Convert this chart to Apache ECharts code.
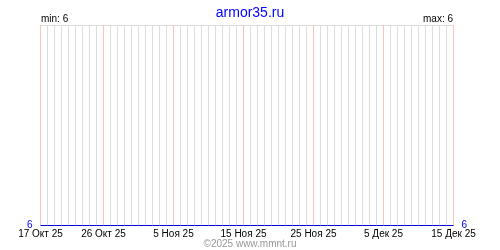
<!DOCTYPE html>
<html><head><meta charset="utf-8">
<script src="https://cdn.jsdelivr.net/npm/echarts@6/dist/echarts.min.js"></script>
<style>html,body{margin:0;padding:0;background:#fff}#c{width:500px;height:250px}</style>
</head><body><div id="c"></div>
<script>
// Data
const startDate = '2025-10-17';
const dayCount = 60; // 17 Oct 2025 .. 15 Dec 2025
const values = [6,6,6,6,6,6,6,6,6,6, 6,6,6,6,6,6,6,6,6,6, 6,6,6,6,6,6,6,6,6,6,
                6,6,6,6,6,6,6,6,6,6, 6,6,6,6,6,6,6,6,6,6, 6,6,6,6,6,6,6,6,6,6];
const tickIndex = [0, 9, 19, 29, 39, 49, 59];
const tickLabels = ['17 Окт 25', '26 Окт 25', '5 Ноя 25', '15 Ноя 25', '25 Ноя 25', '5 Дек 25', '15 Дек 25'];
const titleText = 'armor35.ru';
const footerText = '©2025 www.mmnt.ru';

const categories = [];
{
  const d0 = new Date(startDate + 'T00:00:00Z');
  for (let i = 0; i < dayCount; i++) {
    const d = new Date(d0.getTime() + i * 86400000);
    categories.push(d.toISOString().slice(0, 10));
  }
}
const vMin = Math.min(...values), vMax = Math.max(...values);
const FONT = 'Liberation Sans, Arial, sans-serif';

const chart = echarts.init(document.getElementById('c'));
chart.setOption({
  animation: false,
  title: {
    text: titleText, left: 'center', top: 1,
    textStyle: { color: '#0000ff', fontSize: 14, fontWeight: 'normal', fontFamily: FONT }
  },
  grid: { left: 40.5, right: 46.5, top: 25, bottom: 24.5, containLabel: false },
  xAxis: [{
    type: 'category', data: categories, boundaryGap: false,
    axisLine: { show: false }, axisTick: { show: false },
    axisLabel: {
      interval: (i) => tickIndex.includes(i),
      formatter: (v, i) => { const k = tickIndex.indexOf(i); return k >= 0 ? tickLabels[k] : ''; },
      color: '#000', fontSize: 10, fontFamily: FONT, margin: 4
    },
    splitLine: { show: true, interval: (i) => !tickIndex.includes(i), lineStyle: { color: '#dddddd', width: 1 } }
  }],
  yAxis: [{
    type: 'value', min: vMin, max: vMin + 1, interval: 1, position: 'left',
    axisLine: { show: false }, axisTick: { show: false },
    axisLabel: { formatter: (v) => v === vMin ? String(vMin) : '', color: '#0000ff', fontSize: 10, fontFamily: FONT, margin: 8 },
    splitLine: { show: true, lineStyle: { color: '#dddddd' } }
  }, {
    type: 'value', min: vMin, max: vMin + 1, interval: 1, position: 'right',
    axisLine: { show: false }, axisTick: { show: false },
    axisLabel: { formatter: (v) => v === vMax ? String(vMax) : '', color: '#0000ff', fontSize: 10, fontFamily: FONT, margin: 8 },
    splitLine: { show: false }
  }],
  graphic: [
    { type: 'text', left: 41, top: 14, style: { text: 'min: ' + vMin, fill: '#000', font: '10px ' + FONT } },
    { type: 'text', right: 47, top: 14, style: { text: 'max: ' + vMax, fill: '#000', font: '10px ' + FONT } },
    { type: 'text', left: 'center', top: 239, style: { text: footerText, fill: '#999999', font: '10px ' + FONT } }
  ],
  series: [{
    type: 'line', data: values, xAxisIndex: 0, yAxisIndex: 0,
    showSymbol: false, lineStyle: { color: '#0000dd', width: 1 }, z: 5,
    markLine: {
      silent: true, symbol: ['none', 'none'], label: { show: false }, z: 3,
      lineStyle: { color: '#ffc0c0', width: 1, type: 'solid', opacity: 1 },
      emphasis: { disabled: true },
      data: tickIndex.map((i) => [{ coord: [categories[i], vMin] }, { coord: [categories[i], vMin + 1] }])
    }
  }]
});
</script></body></html>
